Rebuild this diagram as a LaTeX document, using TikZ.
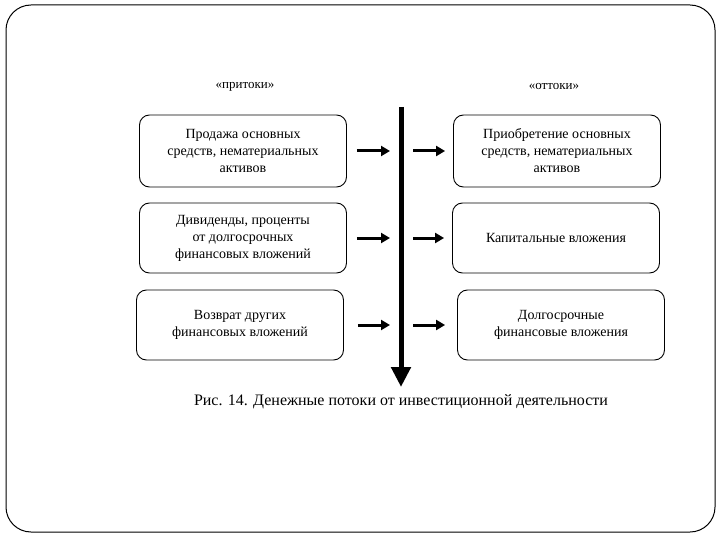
\documentclass[tikz,border=0pt]{standalone}
\usepackage{fontspec}
\setmainfont{Liberation Serif}
\usetikzlibrary{arrows.meta}
\begin{document}
\begin{tikzpicture}[x=1pt, y=-1pt,
  box/.style={draw, line width=0.9pt, rounded corners=10pt, minimum width=207pt, minimum height=70pt,
    align=center, inner sep=2pt, font=\fontsize{14}{17}\selectfont},
  flow/.style={-{Triangle[length=9pt,width=10pt]}, line width=3pt},
  head/.style={font=\fontsize{13}{15}\selectfont}]
  \useasboundingbox (0,0) rectangle (720,540);
  % рамка слайда
  \draw[line width=1pt, rounded corners=25pt] (6,5) rectangle (715,532);
  % притоки / оттоки
  \node[head] (inhead) at (245,87) {«притоки»};
  \node[head] (outhead) at (554,87) {«оттоки»};
  \node[box, minimum height=72pt] (in1) at (243,151) {Продажа основных\\средств, нематериальных\\активов};
  \node[box] (in2) at (243,238) {Дивиденды, проценты\\от долгосрочных\\финансовых вложений};
  \node[box] (in3) at (240,325) {Возврат других\\финансовых вложений};
  \node[box, minimum height=72pt] (out1) at (557,151) {Приобретение основных\\средств, нематериальных\\активов};
  \node[box] (out2) at (556,238) {Капитальные вложения};
  \node[box] (out3) at (561,325) {Долгосрочные\\финансовые вложения};
  % ось денежного потока
  \coordinate (top) at (401,107);
  \coordinate (bottom) at (401,387);
  \draw[-{Triangle[length=20pt,width=19pt]}, line width=5pt] (top) -- (bottom);
  \draw[flow, shorten <=10pt, shorten >=11pt] (in1.east) -- (in1.east -| top);
  \draw[flow, shorten <=10pt, shorten >=11pt] (in2.east) -- (in2.east -| top);
  \draw[flow, shorten <=14pt, shorten >=11pt] (in3.east) -- (in3.east -| top);
  \draw[flow, shorten <=12pt, shorten >=8pt] (out1.west -| top) -- (out1.west);
  \draw[flow, shorten <=12pt, shorten >=8pt] (out2.west -| top) -- (out2.west);
  \draw[flow, shorten <=12pt, shorten >=12pt] (out3.west -| top) -- (out3.west);
  \node[font=\fontsize{16}{19}\selectfont] (caption) at (401,402)
    {Рис. 14. Денежные потоки от инвестиционной деятельности};
\end{tikzpicture}
\end{document}
